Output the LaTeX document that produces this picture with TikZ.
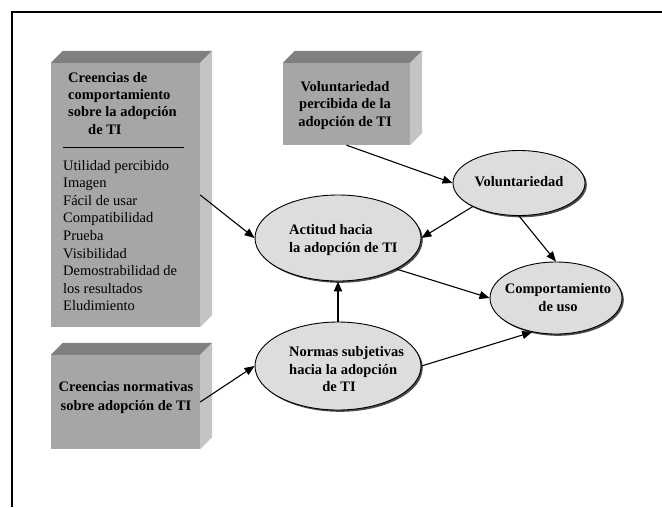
\documentclass[tikz,border=0pt]{standalone}
\usepackage{fontspec}
\setmainfont{Liberation Serif}
\usetikzlibrary{shapes.geometric,arrows.meta,shadows}
\definecolor{boxfront}{HTML}{A6A6A6}
\definecolor{boxtop}{HTML}{808080}
\definecolor{boxside}{HTML}{C4C4C4}
\definecolor{ellfill}{HTML}{DDDDDD}
\begin{document}
\begin{tikzpicture}[x=1pt,y=-1pt,
  ell/.style={ellipse, draw=black, line width=0.9pt, fill=ellfill, inner sep=0pt,
    drop shadow={shadow xshift=1.8pt, shadow yshift=-1.8pt, fill=black!70, opacity=1}},
  front/.style={fill=boxfront, draw=none, inner sep=0pt},
  txt/.style={font=\fontsize{14.5}{17.6}\selectfont, inner sep=0pt},
  btxt/.style={font=\fontsize{14.5}{17.3}\selectfont\bfseries, inner sep=0pt},
  conn/.style={line width=1.1pt, -{Triangle[length=10pt,width=8pt]}},
  thick conn/.style={line width=2pt, -{Triangle[length=10pt,width=8pt]}}
]
\useasboundingbox (0,0) rectangle (662,507);
% frame
\draw[line width=2pt] (12,507) -- (12,12) -- (662,12);

% boxes
\node[front, minimum width=149pt, minimum height=264pt] (b1) at (125.5,195) {};
\fill[boxtop] (b1.north west) -- ++(12,-12) -- ([shift={(12,-12)}]b1.north east) -- (b1.north east) -- cycle;
\fill[boxside] (b1.north east) -- ([shift={(12,-12)}]b1.north east) -- ([shift={(12,-12)}]b1.south east) -- (b1.south east) -- cycle;

\node[front, minimum width=127pt, minimum height=82pt] (b2) at (346.5,104) {};
\fill[boxtop] (b2.north west) -- ++(12,-12) -- ([shift={(12,-12)}]b2.north east) -- (b2.north east) -- cycle;
\fill[boxside] (b2.north east) -- ([shift={(12,-12)}]b2.north east) -- ([shift={(12,-12)}]b2.south east) -- (b2.south east) -- cycle;

\node[front, minimum width=149pt, minimum height=94pt] (b3) at (125.5,402) {};
\fill[boxtop] (b3.north west) -- ++(12,-12) -- ([shift={(12,-12)}]b3.north east) -- (b3.north east) -- cycle;
\fill[boxside] (b3.north east) -- ([shift={(12,-12)}]b3.north east) -- ([shift={(12,-12)}]b3.south east) -- (b3.south east) -- cycle;

% box texts
\node[btxt, anchor=west, align=left] (b1head) at (68,96)
  {Creencias de\\comportamiento\\sobre la adopción};
\node[btxt, anchor=west] (b1head2) at (88,130) {de TI};
\draw[line width=0.9pt] (63,147) -- (184,147);
\node[txt, anchor=west, align=left] (b1list) at (63,235.5)
  {Utilidad percibido\\Imagen\\Fácil de usar\\Compatibilidad\\Prueba\\Visibilidad\\Demostrabilidad de\\los resultados\\Eludimiento};
\node[btxt, align=center] (b2text) at (345,105.5)
  {Voluntariedad\\percibida de la\\adopción de TI};
\node[btxt, align=center, font=\fontsize{14.5}{19}\selectfont\bfseries] (b3text) at (126,397.5)
  {Creencias normativas\\sobre adopción de TI};

% ellipses
\node[ell, minimum width=132pt, minimum height=65pt] (vol) at (519,183) {};
\node[ell, minimum width=132pt, minimum height=72pt] (comp) at (556,298) {};
\node[ell, minimum width=166pt, minimum height=86pt] (act) at (338,238) {};
\node[ell, minimum width=166pt, minimum height=88pt] (norm) at (338,366) {};

\node[btxt] (voltext) at (519,182) {Voluntariedad};
\node[btxt, align=center, font=\fontsize{14.5}{18}\selectfont\bfseries] (comptext) at (558,298) {Comportamiento\\de uso};
\node[btxt, anchor=west, align=left, font=\fontsize{14.5}{18}\selectfont\bfseries] (acttext) at (289,240) {Actitud hacia\\la adopción de TI};
\node[btxt, anchor=west, align=left] (normtext) at (289,362) {Normas subjetivas\\hacia la adopción};
\node[btxt] (normtext2) at (339,387) {de TI};

% connectors
\draw[conn] (b1.east) -- (act.west);
\draw[conn] (b2.south) -- (vol.west);
\draw[conn] (vol.207) -- (act.east);
\draw[conn] (vol.south) -- (comp.north);
\draw[conn] (act.-28) -- (comp.west);
\draw[thick conn] (norm.north) -- (act.south);
\draw[conn] (b3.east) -- (norm.west);
\draw[conn] (norm.east) -- (comp.-125);
\end{tikzpicture}
\end{document}
